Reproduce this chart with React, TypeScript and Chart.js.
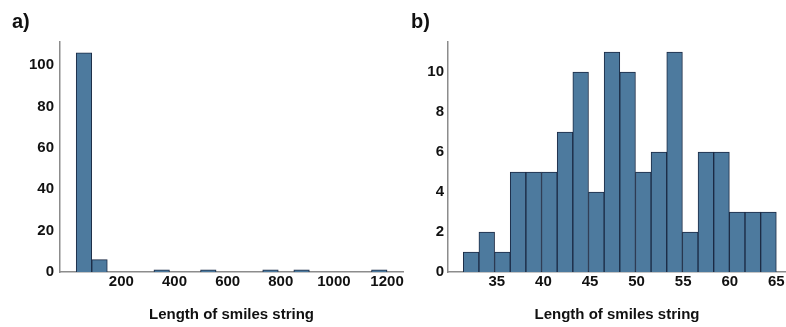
import React, { useEffect, useRef } from "react";
import { Chart, registerables } from "chart.js";

Chart.register(...registerables);

// Panel a: 20 bins from 30 to 1200 (bin centers) and counts
const A_BIN_CENTERS = [
  59.25, 117.75, 176.25, 234.75, 293.25, 351.75, 410.25, 468.75, 527.25, 585.75,
  644.25, 702.75, 761.25, 819.75, 878.25, 936.75, 995.25, 1053.75, 1112.25, 1170.75,
];
const A_COUNTS = [106, 6, 0, 0, 0, 1, 0, 0, 1, 0, 0, 0, 1, 0, 1, 0, 0, 0, 0, 1];
const A_X_TICKS = [200, 400, 600, 800, 1000, 1200];
const A_Y_TICKS = [0, 20, 40, 60, 80, 100];

// Panel b: 20 bins from ~31.4 to 65
const B_BIN_CENTERS = [
  32.24, 33.92, 35.6, 37.28, 38.96, 40.64, 42.32, 44.0, 45.68, 47.36,
  49.04, 50.72, 52.4, 54.08, 55.76, 57.44, 59.12, 60.8, 62.48, 64.16,
];
const B_COUNTS = [1, 2, 1, 5, 5, 5, 7, 10, 4, 11, 10, 5, 6, 11, 2, 6, 6, 3, 3, 3];
const B_X_TICKS = [35, 40, 45, 50, 55, 60, 65];
const B_Y_TICKS = [0, 2, 4, 6, 8, 10];

const X_TITLE = "Length of smiles string";

const FILL = "#4d7a9e";
const EDGE = "#1b2a44";
const AXIS = "#8c8c8c";
const FONT_FAMILY = "'Liberation Sans', Arial, Helvetica, sans-serif";

type PanelOpts = {
  centers: number[];
  counts: number[];
  xMin: number;
  xMax: number;
  xTicks: number[];
  yMax: number;
  yTicks: number[];
  yWidth: number;
  yPad: number;
  padding: { left: number; right: number; top: number; bottom: number };
};

function makeChart(canvas: HTMLCanvasElement, o: PanelOpts) {
  const tickFont = { family: FONT_FAMILY, size: 15, weight: "bold" as const };
  return new Chart(canvas, {
    type: "bar",
    data: {
      datasets: [
        {
          data: o.centers.map((c, i) => ({ x: c, y: o.counts[i] })),
          backgroundColor: FILL,
          borderColor: EDGE,
          borderWidth: 1,
          barPercentage: 1,
          categoryPercentage: 1,
          grouped: false,
        } as any,
      ],
    },
    options: {
      responsive: false,
      animation: false,
      events: [],
      layout: { padding: o.padding },
      plugins: { legend: { display: false }, tooltip: { enabled: false }, title: { display: false } },
      scales: {
        x: {
          type: "linear",
          min: o.xMin,
          max: o.xMax,
          offset: false,
          grid: { display: false, drawTicks: false },
          border: { display: true, color: AXIS, width: 1.5 },
          afterBuildTicks: (s: any) => {
            s.ticks = o.xTicks.map((v) => ({ value: v }));
          },
          afterFit: (s: any) => {
            s.height = 55;
          },
          ticks: {
            autoSkip: false,
            maxRotation: 0,
            padding: 1,
            color: "#111",
            font: tickFont,
            callback: (v: any) => String(v),
          },
          title: {
            display: true,
            text: X_TITLE,
            color: "#111",
            font: { family: FONT_FAMILY, size: 15, weight: "bold" },
            padding: { top: 0, bottom: 3 },
          },
        },
        y: {
          type: "linear",
          min: 0,
          max: o.yMax,
          grid: { display: false, drawTicks: false },
          border: { display: true, color: AXIS, width: 1.5 },
          afterBuildTicks: (s: any) => {
            s.ticks = o.yTicks.map((v) => ({ value: v }));
          },
          afterFit: (s: any) => {
            s.width = o.yWidth;
          },
          ticks: {
            autoSkip: false,
            padding: o.yPad,
            color: "#111",
            font: tickFont,
            callback: (v: any) => String(v),
          },
        },
      },
    },
  });
}

export default function App() {
  const refA = useRef<HTMLCanvasElement>(null);
  const refB = useRef<HTMLCanvasElement>(null);

  useEffect(() => {
    const a = makeChart(refA.current!, {
      centers: A_BIN_CENTERS,
      counts: A_COUNTS,
      xMin: -31,
      xMax: 1260,
      xTicks: A_X_TICKS,
      yMax: 111.3,
      yTicks: A_Y_TICKS,
      yWidth: 60,
      yPad: 6,
      padding: { left: 0, right: 9, top: 42, bottom: 0 },
    });
    const b = makeChart(refB.current!, {
      centers: B_BIN_CENTERS,
      counts: B_COUNTS,
      xMin: 29.76,
      xMax: 66.04,
      xTicks: B_X_TICKS,
      yMax: 11.5,
      yTicks: B_Y_TICKS,
      yWidth: 43,
      yPad: 4,
      padding: { left: 0, right: 0, top: 42, bottom: 0 },
    });
    return () => {
      a.destroy();
      b.destroy();
    };
  }, []);

  const labelStyle: React.CSSProperties = {
    position: "absolute",
    fontFamily: FONT_FAMILY,
    fontWeight: "bold",
    fontSize: 20,
    lineHeight: "20px",
    color: "#111",
    top: 11,
    margin: 0,
  };

  return (
    <div style={{ position: "fixed", left: 0, top: 0, width: 786, height: 327, background: "#fff", overflow: "hidden" }}>
      <canvas ref={refA} width={412} height={327} style={{ position: "absolute", left: 0, top: 0 }} />
      <canvas ref={refB} width={381} height={327} style={{ position: "absolute", left: 405, top: 0 }} />
      <div style={{ ...labelStyle, left: 12 }}>a)</div>
      <div style={{ ...labelStyle, left: 411 }}>b)</div>
    </div>
  );
}
